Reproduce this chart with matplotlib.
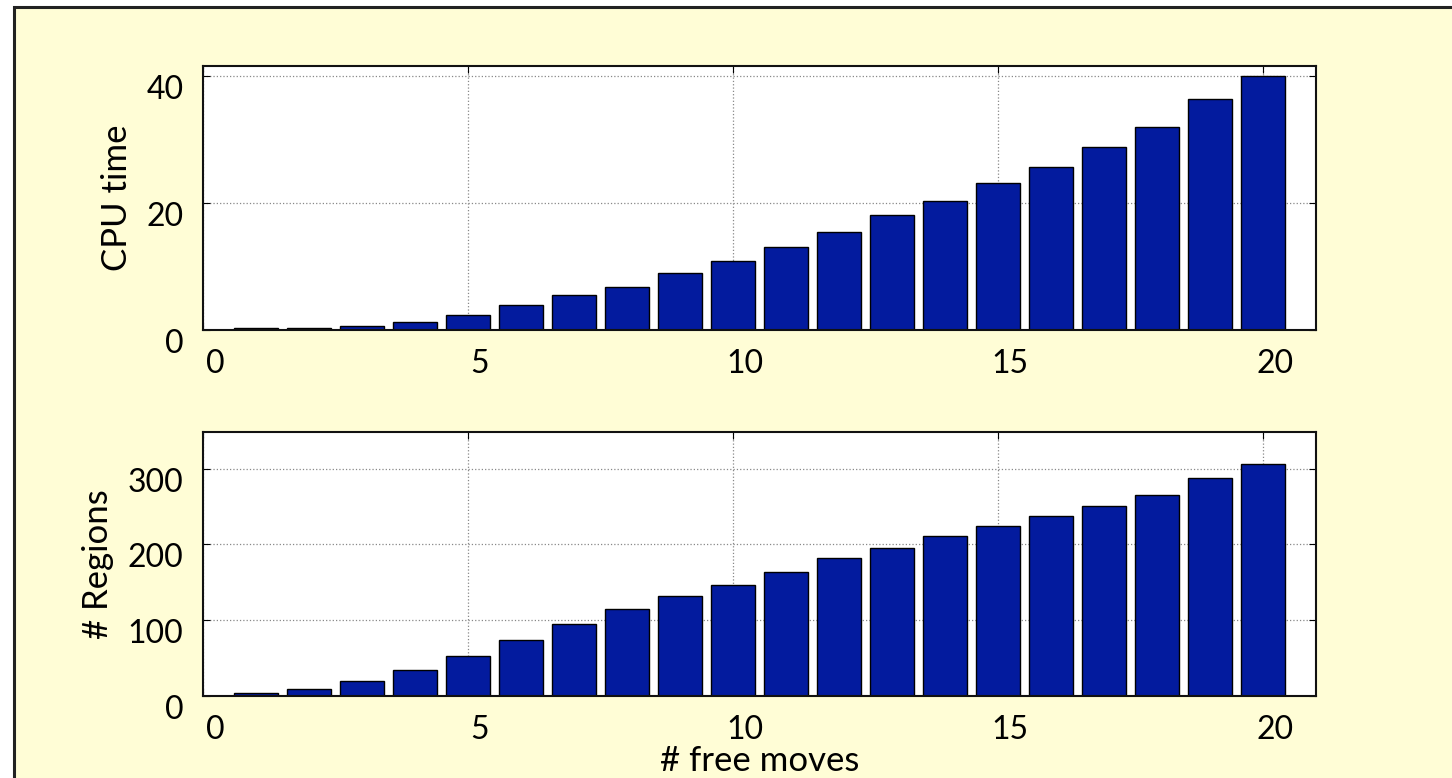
import numpy as np
import matplotlib
matplotlib.use('Agg')
import matplotlib.pyplot as plt
import matplotlib.transforms as mtransforms
from matplotlib.patches import Rectangle

plt.rcParams['font.family'] = ['Lato', 'DejaVu Sans']

# number of free moves and measured results
free_moves = np.arange(1, 21)
cpu_time = [0.25, 0.25, 0.6, 1.3, 2.4, 3.9, 5.5, 6.8, 8.9, 10.8,
            13.1, 15.4, 18.1, 20.3, 23.1, 25.6, 28.8, 32.0, 36.4, 40.0]
n_regions = [4, 9, 19, 34, 52, 73, 95, 114, 132, 146,
             164, 182, 195, 211, 224, 237, 251, 265, 288, 306]

bar_color = '#031b9e'
bg_color = '#fffdd6'

fig = plt.figure(figsize=(14.52, 7.78), dpi=100, facecolor='white')

# yellow slide panel with dark border on left/top
panel = Rectangle((14 / 1452, -0.05), 1.1, 1 - 7 / 778 + 0.05,
                  transform=fig.transFigure, facecolor=bg_color,
                  edgecolor='#222222', linewidth=2.2, zorder=-10)
fig.add_artist(panel)

ax1 = fig.add_axes([0.1398, 0.5758, 0.7665, 0.3397])
ax2 = fig.add_axes([0.1398, 0.1058, 0.7665, 0.3393])


def style_axis(ax, yticks, ylim, ylabel):
    ax.set_facecolor('white')
    ax.set_axisbelow(True)
    ax.set_xlim(0, 21)
    ax.set_ylim(*ylim)
    ax.set_xticks([0, 5, 10, 15, 20])
    ax.set_yticks(yticks)
    ax.grid(True, linestyle=':', color='#888888', linewidth=0.9)
    for s in ax.spines.values():
        s.set_linewidth(1.5)
        s.set_color('#111111')
    ax.tick_params(direction='in', length=5, width=0.8, top=True, right=True,
                   labelsize=23, pad=14)
    ax.set_ylabel(ylabel, fontsize=25, labelpad=10)
    # tick labels sit a little right / low of their ticks
    dx = mtransforms.ScaledTranslation(0.12, 0, fig.dpi_scale_trans)
    dy = mtransforms.ScaledTranslation(0, -0.11, fig.dpi_scale_trans)
    for lab in ax.get_xticklabels():
        lab.set_transform(lab.get_transform() + dx)
    for lab in ax.get_yticklabels():
        lab.set_transform(lab.get_transform() + dy)


ax1.bar(free_moves, cpu_time, width=0.82, color=bar_color,
        edgecolor='black', linewidth=1.0)
style_axis(ax1, [0, 20, 40], (0, 41.6), 'CPU time')

ax2.bar(free_moves, n_regions, width=0.82, color=bar_color,
        edgecolor='black', linewidth=1.0)
style_axis(ax2, [0, 100, 200, 300], (0, 349), '# Regions')
ax2.set_xlabel('# free moves', fontsize=25, labelpad=0)

fig.savefig('out.png', dpi=100, facecolor=fig.get_facecolor())
